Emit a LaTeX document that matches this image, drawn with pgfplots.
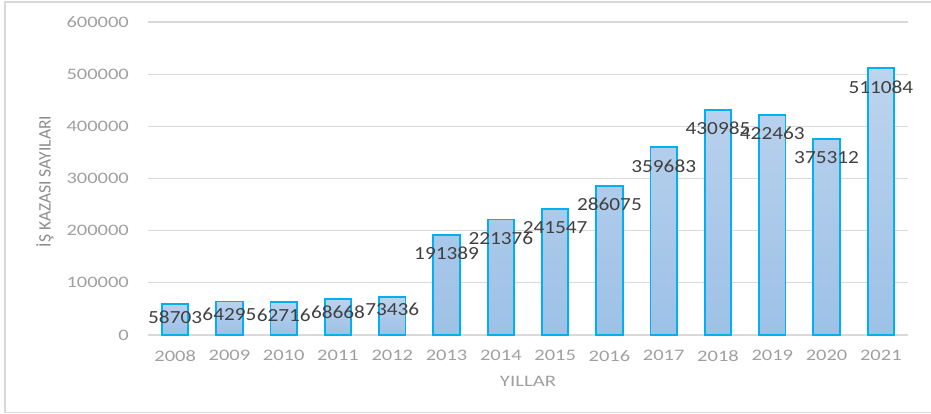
\documentclass[border=0pt]{standalone}
\usepackage{pgfplots}
\pgfplotsset{compat=1.18}
\usepackage{fontspec}
\setmainfont{Carlito}
\newfontfamily\tickfont[FakeStretch=1.28]{Carlito}
\newfontfamily\labfont[FakeStretch=1.15]{Carlito}
\newfontfamily\xlabfont[FakeStretch=1.3]{Carlito}
\definecolor{gridc}{HTML}{D9D9D9}
\definecolor{barc}{HTML}{00B0F0}
\definecolor{bartop}{HTML}{BDD4EE}
\definecolor{barbot}{HTML}{9DC1E7}
\definecolor{tickc}{HTML}{A0A0A0}
\definecolor{labc}{HTML}{404040}
\definecolor{ylabc}{HTML}{8C8C8C}
\pgfplotsset{/pgf/number format/.cd, fixed, 1000 sep={}, assume math mode=true}
\begin{document}
\begin{tikzpicture}[x=1pt,y=1pt]
\useasboundingbox (0,0) rectangle (931,414);
\draw[color=gridc, line width=1.5pt] (945,412) -- (5,412) -- (5,1.5) -- (945,1.5);
\begin{axis}[
  at={(148pt,79pt)}, anchor=south west,
  scale only axis, width=760pt, height=313pt,
  xmin=-0.5, xmax=13.5, ymin=0, ymax=600000,
  xtick={0,1,2,3,4,5,6,7,8,9,10,11,12,13},
  xticklabels={2008,2009,2010,2011,2012,2013,2014,2015,2016,2017,2018,2019,2020,2021},
  ytick={0,100000,200000,300000,400000,500000,600000},
  scaled y ticks=false,
  major tick length=0pt,
  axis line style={draw=none},
  ymajorgrids, grid style={color=gridc, line width=1.3pt},
  yticklabel style={font=\tickfont\fontsize{16}{18}\selectfont, text=tickc, anchor=east, inner sep=0pt, xshift=-19pt},
  xticklabel style={font=\tickfont\fontsize{16}{18}\selectfont, text=tickc, anchor=north, inner sep=0pt, yshift=-15pt},
  xlabel={YILLAR},
  xlabel style={font=\xlabfont\fontsize{16}{18}\selectfont, text=tickc, at={(axis description cs:0.5,-0.147)}, anchor=center, inner sep=0pt},
  ylabel={İŞ KAZASI SAYILARI},
  ylabel style={font=\fontsize{17.5}{20}\selectfont, text=ylabc, at={(axis description cs:-0.1355,0.49)}, anchor=center, inner sep=0pt},
  clip=false,
]
\addplot[ybar, bar width=26.5pt, bar shift=0pt, draw=barc, line width=1.8pt,
  top color=bartop, bottom color=barbot,
  nodes near coords,
  nodes near coords style={font=\labfont\fontsize{18.5}{20}\selectfont, text=labc, anchor=center, inner sep=0pt, yshift=-13pt}]
  coordinates {(0,58703) (1,64295) (2,62716) (3,68668) (4,73436)};
\addplot[ybar, bar width=26.5pt, bar shift=0pt, draw=barc, line width=1.8pt,
  top color=bartop, bottom color=barbot,
  nodes near coords,
  nodes near coords style={font=\labfont\fontsize{18.5}{20}\selectfont, text=labc, anchor=center, inner sep=0pt, yshift=-18.5pt}]
  coordinates {(5,191389) (6,221376) (7,241547) (8,286075) (9,359683) (10,430985) (11,422463) (12,375312) (13,511084)};
\end{axis}
\end{tikzpicture}
\end{document}
